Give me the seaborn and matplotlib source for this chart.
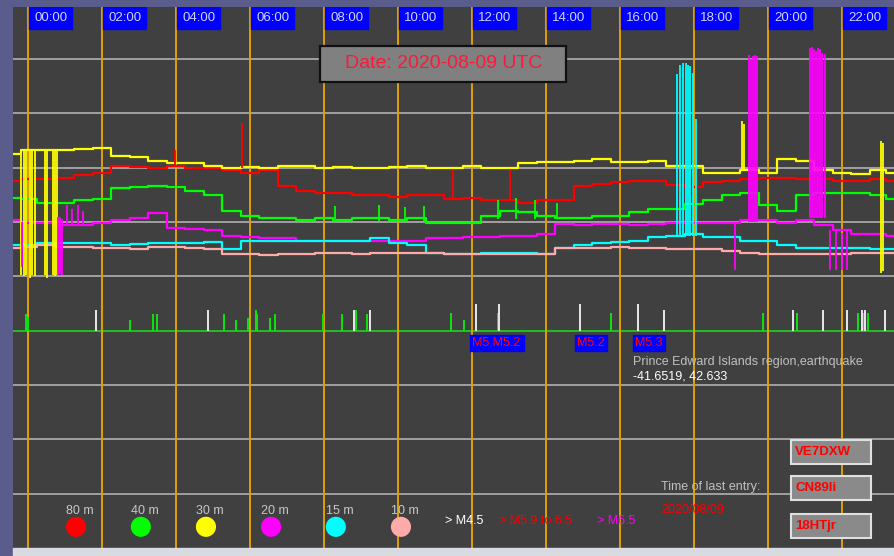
import numpy as np
import pandas as pd
import matplotlib
matplotlib.use("Agg")
import matplotlib.pyplot as plt
from matplotlib.patches import Rectangle
import seaborn as sns

# half-hour readings (window edge, 00:00 ... 23:00, window edge)
HOURS = [-0.4] + list(np.arange(0, 23.5, 0.5)) + [23.4]

BANDS = ["80 m", "40 m", "30 m", "20 m", "15 m", "10 m"]
BAND_COLORS = {"80 m": "#ff0000", "40 m": "#00ff00", "30 m": "#ffff00",
               "20 m": "#ff00ff", "15 m": "#00ffff", "10 m": "#ffaaaa"}

LEVEL_80 = [6.76, 6.80, 6.80, 6.82, 6.86, 6.91, 7.04, 7.01, 7.00, 7.04, 6.99, 6.99, 6.95,
            6.91, 6.95, 6.67, 6.58, 6.54, 6.53, 6.49, 6.49, 6.47, 6.49, 6.49, 6.43, 6.45,
            6.40, 6.40, 6.36, 6.40, 6.40, 6.67, 6.71, 6.73, 6.76, 6.76, 6.69, 6.64, 6.73,
            6.76, 6.80, 6.82, 6.82, 6.80, 6.80, 6.76, 6.76, 6.80, 6.76]
LEVEL_40 = [6.45, 6.43, 6.36, 6.36, 6.40, 6.43, 6.62, 6.64, 6.67, 6.65, 6.58, 6.49, 6.21,
            6.12, 6.07, 6.07, 6.03, 6.07, 6.03, 6.08, 6.07, 6.03, 6.07, 5.99, 5.99, 5.99,
            6.12, 6.21, 6.18, 6.12, 6.07, 6.08, 6.12, 6.12, 6.18, 6.25, 6.25, 6.34, 6.40,
            6.49, 6.53, 6.31, 6.21, 6.49, 6.54, 6.53, 6.53, 6.49, 6.43]
LEVEL_30 = [7.26, 7.32, 7.32, 7.32, 7.35, 7.37, 7.22, 7.19, 7.13, 7.08, 7.08, 7.04, 7.00,
            7.01, 7.00, 7.04, 7.04, 7.00, 7.01, 7.00, 6.99, 7.01, 7.04, 7.00, 7.00, 7.04,
            7.00, 6.99, 7.08, 7.10, 7.10, 7.13, 7.17, 7.10, 7.10, 7.13, 7.04, 7.04, 6.91,
            6.91, 6.95, 6.91, 7.17, 7.13, 6.95, 6.91, 6.89, 6.95, 6.91]
LEVEL_20 = [6.03, 5.99, 5.99, 5.94, 5.94, 5.99, 6.03, 6.07, 6.16, 5.90, 5.88, 5.85, 5.75,
            5.72, 5.70, 5.70, 5.66, 5.66, 5.66, 5.66, 5.66, 5.66, 5.66, 5.70, 5.70, 5.72,
            5.72, 5.74, 5.75, 5.79, 5.97, 5.94, 5.97, 5.97, 5.94, 5.97, 5.99, 5.99, 5.99,
            5.99, 6.03, 6.03, 5.99, 6.03, 5.94, 5.85, 5.79, 5.79, 5.75]
LEVEL_15 = [5.57, 5.57, 5.61, 5.61, 5.61, 5.61, 5.57, 5.59, 5.61, 5.61, 5.61, 5.63, 5.51,
            5.66, 5.66, 5.66, 5.66, 5.66, 5.66, 5.66, 5.70, 5.61, 5.57, 5.44, 5.42, 5.42,
            5.44, 5.44, 5.44, 5.42, 5.53, 5.57, 5.61, 5.63, 5.66, 5.72, 5.75, 5.79, 5.72,
            5.72, 5.66, 5.66, 5.57, 5.53, 5.53, 5.53, 5.53, 5.51, 5.51]
LEVEL_10 = [5.53, 5.55, 5.57, 5.55, 5.55, 5.53, 5.53, 5.51, 5.55, 5.55, 5.53, 5.51, 5.42,
            5.42, 5.40, 5.42, 5.42, 5.44, 5.44, 5.42, 5.44, 5.44, 5.44, 5.44, 5.42, 5.42,
            5.42, 5.42, 5.42, 5.42, 5.53, 5.53, 5.53, 5.55, 5.53, 5.53, 5.51, 5.51, 5.51,
            5.46, 5.44, 5.42, 5.42, 5.42, 5.42, 5.42, 5.44, 5.44, 5.44]

# short bursts / fades drawn as vertical strokes
BURST_HOURS = [-0.19, -0.11, -0.05, 0.05, 0.11, 0.19, 0.46, 0.51, 0.68, 0.73, 0.78,
               23.05, 23.11, 19.30, 19.35,
               -0.16, 0.81, 0.86, 0.92, 1.05, 1.20, 1.35, 1.48,
               17.54, 17.62, 17.70, 17.78, 17.84, 17.90, 17.97, 18.05,
               19.49, 19.54, 19.60, 19.66, 19.70, 19.10,
               21.14, 21.19, 21.24, 21.30, 21.35, 21.41, 21.47, 21.54, 21.68, 21.84, 22.00, 22.14,
               5.78, 3.97, 11.50, 13.03,
               12.70, 13.20, 13.70, 14.30, 8.30, 9.50, 10.20, 10.70]
BURST_TOP = [7.30, 7.33, 7.33, 7.30, 7.33, 7.30, 7.33, 7.33, 7.30, 7.33, 7.30,
             7.50, 7.45, 7.87, 7.80,
             6.00, 6.10, 6.10, 6.05, 6.31, 6.25, 6.31, 6.20,
             8.73, 8.90, 8.92, 8.92, 8.90, 8.88, 8.75, 7.90,
             9.08, 9.00, 9.05, 9.08, 9.06, 5.99,
             9.20, 9.22, 9.18, 9.15, 9.20, 9.18, 9.12, 9.10, 5.85, 5.85, 5.80, 5.85,
             7.83, 7.32, 6.95, 6.95,
             6.40, 6.45, 6.40, 6.35, 6.30, 6.31, 6.28, 6.30]
BURST_BOTTOM = [5.02, 5.00, 5.02, 4.98, 5.02, 5.00, 5.02, 4.98, 5.02, 5.00, 5.02,
                5.07, 5.10, 6.95, 6.95,
                5.17, 5.02, 5.05, 5.02, 5.94, 5.94, 5.94, 5.94,
                5.75, 5.75, 5.75, 5.75, 5.75, 5.75, 5.75, 5.75,
                6.00, 6.00, 6.00, 6.00, 6.00, 5.11,
                6.08, 6.08, 6.08, 6.08, 6.08, 6.08, 6.08, 6.08, 5.11, 5.11, 5.11, 5.11,
                6.99, 7.04, 6.45, 6.40,
                6.05, 6.05, 6.05, 6.05, 6.00, 6.00, 6.00, 6.00]
BURST_BAND = (["30 m"] * 15 + ["20 m"] * 8 + ["15 m"] * 8 + ["20 m"] * 18
              + ["80 m"] * 4 + ["40 m"] * 8)

# spikes above the green baseline
QUAKE_HOURS = [-0.05, 0.00, 2.76, 3.38, 3.49, 5.30, 5.62, 5.95, 6.16, 6.19, 6.54, 6.68,
               7.97, 8.49, 8.86, 9.16, 11.43, 11.78, 12.70, 15.76, 19.86, 20.78, 22.43,
               22.57, 22.70,
               1.84, 4.86, 8.81, 9.24, 12.11, 12.73, 14.92, 16.49, 17.19, 20.68, 21.49,
               22.14, 22.54, 22.62, 23.16]
QUAKE_TOP = [4.30, 4.25, 4.19, 4.30, 4.30, 4.30, 4.19, 4.23, 4.39, 4.30, 4.23, 4.30,
             4.30, 4.30, 4.39, 4.30, 4.32, 4.19, 4.32, 4.32, 4.32, 4.32, 4.32, 4.32, 4.32,
             4.39, 4.39, 4.39, 4.39, 4.50, 4.50, 4.50, 4.50, 4.39, 4.39, 4.39, 4.39, 4.39,
             4.39, 4.39]
QUAKE_COLOR = ["#10e010"] * 25 + ["#e8e8e8"] * 15

QUAKE_TAGS = ["M5.M5.2", "M5.2", "M5.3"]
QUAKE_TAG_X = [11.95, 14.78, 16.35]
QUAKE_TAG_W = [1.46, 0.87, 0.87]

STATION = ["VE7DXW", "CN89li", "18HTjr"]

sns.set_style("dark", {"axes.facecolor": "#404040"})
plt.rcParams["font.family"] = ["Liberation Sans", "DejaVu Sans"]

fig = plt.figure(figsize=(8.94, 5.56), dpi=100, facecolor="#5a5c8c")
ax = fig.add_axes([13 / 894, 8 / 556, 881 / 894, 541 / 556])
fig.patches.append(Rectangle((13 / 894, 0), 1, 8 / 556, transform=fig.transFigure,
                             color="#d8dbe2"))

# grid
for y in [1, 2, 3, 5, 6, 7, 8, 9]:
    ax.axhline(y, color="#a8a8a8", lw=1.3, zorder=1)
ax.axhline(4, color="#20c020", lw=1.4, zorder=1)
for h in range(0, 24, 2):
    ax.axvline(h, color="#e0a000", lw=1.4, zorder=1)

levels = [LEVEL_80, LEVEL_40, LEVEL_30, LEVEL_20, LEVEL_15, LEVEL_10]
df = pd.DataFrame({
    "hour": HOURS * len(BANDS),
    "level": sum(levels, []),
    "band": [b for b in BANDS for _ in HOURS],
})
sns.lineplot(data=df, x="hour", y="level", hue="band", hue_order=BANDS,
             palette=BAND_COLORS, estimator=None, legend=False, lw=1.6,
             drawstyle="steps-mid", ax=ax, zorder=3)
ax.vlines(BURST_HOURS, BURST_BOTTOM, BURST_TOP,
          colors=[BAND_COLORS[b] for b in BURST_BAND], lw=1.3, zorder=3)
ax.vlines(QUAKE_HOURS, 4.0, QUAKE_TOP, colors=QUAKE_COLOR, lw=1.4, zorder=3)

# hour labels along the top
for h in range(0, 24, 2):
    ax.add_patch(Rectangle((h + 0.04, 9.56), 1.16, 0.5, color="#0000ff", zorder=5))
    ax.text(h + 0.62, 9.76, f"{h:02d}:00", color="#d0d4f8", fontsize=9.5,
            ha="center", va="center", zorder=6)

ax.add_patch(Rectangle((7.89, 8.58), 6.65, 0.67, facecolor="#808080",
                       edgecolor="#101010", lw=1.6, zorder=5))
ax.text(11.22, 8.92, "Date: 2020-08-09 UTC", color="#ff1838", fontsize=14,
        ha="center", va="center", zorder=6)

for tag, x, w in zip(QUAKE_TAGS, QUAKE_TAG_X, QUAKE_TAG_W):
    ax.add_patch(Rectangle((x, 3.62), w, 0.31, color="#0000ff", zorder=5))
    ax.text(x + 0.05, 3.77, tag, color="#ff0000", fontsize=9, ha="left",
            va="center", zorder=6)
ax.text(16.35, 3.42, "Prince Edward Islands region,earthquake", color="#c0c0c0",
        fontsize=9, ha="left", va="center")
ax.text(16.35, 3.16, "-41.6519, 42.633", color="#ffffff", fontsize=9,
        ha="left", va="center")

# band legend
legend_x = [1.30, 3.05, 4.81, 6.57, 8.32, 10.08]
sns.scatterplot(x=legend_x, y=[0.39] * 6, hue=BANDS, palette=BAND_COLORS,
                s=210, linewidth=0, legend=False, ax=ax, zorder=4)
for x, b in zip(legend_x, BANDS):
    ax.text(x + 0.1, 0.68, b, color="#c8c8c8", fontsize=9, ha="center", va="center")

ax.text(11.27, 0.50, "> M4.5", color="#ffffff", fontsize=9, va="center")
ax.text(12.73, 0.50, "> M5.9 to 6.5", color="#ff0000", fontsize=9, va="center")
ax.text(15.38, 0.50, "> M6.5", color="#ff00ff", fontsize=9, va="center")
ax.text(17.11, 1.12, "Time of last entry:", color="#c0c0c0", fontsize=9, va="center")
ax.text(17.11, 0.70, "2020/08/09", color="#ff0000", fontsize=9, va="center")

for name, y0 in zip(STATION, [1.54, 0.88, 0.18]):
    ax.add_patch(Rectangle((20.62, y0), 2.16, 0.45, facecolor="#8a8a8a",
                           edgecolor="#e0e0e0", lw=1.5, zorder=5))
    ax.text(20.73, y0 + 0.22, name, color="#ff0000", fontsize=9.5,
            fontweight="bold", ha="left", va="center", zorder=6)

ax.set_xlim(-0.405, 23.405)
ax.set_ylim(0, 9.96)
ax.set_xticks([])
ax.set_yticks([])
ax.set_xlabel("")
ax.set_ylabel("")
for s in ax.spines.values():
    s.set_visible(False)

fig.savefig("out.png", dpi=100, facecolor=fig.get_facecolor())
